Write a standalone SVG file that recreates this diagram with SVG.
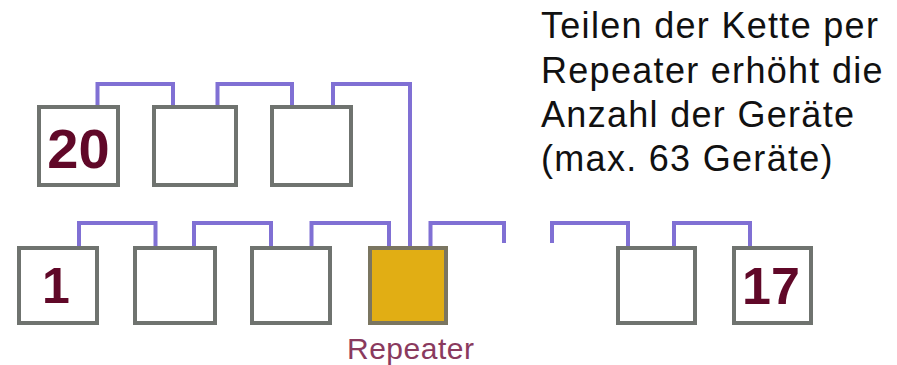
<svg xmlns="http://www.w3.org/2000/svg" width="897" height="365" viewBox="0 0 897 365">
  <style>
    .box { fill: #ffffff; stroke: #6f736f; stroke-width: 4; }
    .rep { fill: #e1ae14; stroke: #7a7560; stroke-width: 4; }
    .wire { fill: none; stroke: #8070d4; stroke-width: 4; stroke-linejoin: miter; stroke-linecap: butt; }
    .num { font-family: "Liberation Sans", Arial, sans-serif; font-weight: bold; fill: #600828; text-anchor: middle; }
    .note { font-family: "Liberation Sans", Arial, sans-serif; font-size: 36px; fill: #111111; letter-spacing: 1.3px; }
    .label { font-family: "Liberation Sans", Arial, sans-serif; font-size: 30px; fill: #8a3a5e; letter-spacing: 0.5px; }
  </style>

  <rect width="897" height="365" fill="#ffffff"/>

  <!-- bus wiring between devices -->
  <g id="connectors">
    <!-- upper segment -->
    <path class="wire" d="M97.5,105 V84 H173 V105"/>
    <path class="wire" d="M217.5,105 V84 H292 V105"/>
    <path class="wire" d="M333,105 V84 H410 V246"/>
    <!-- lower segment -->
    <path class="wire" d="M79,246 V223 H155.5 V246"/>
    <path class="wire" d="M194,246 V223 H271 V246"/>
    <path class="wire" d="M311.5,246 V223 H389 V246"/>
    <path class="wire" d="M430.5,246 V223 H504 V243"/>
    <path class="wire" d="M552,243 V223 H628 V246"/>
    <path class="wire" d="M674,246 V223 H750 V246"/>
  </g>

  <!-- upper row of devices -->
  <g id="dev20">
    <rect class="box" x="39" y="107" width="79" height="78"/>
    <text class="num" x="78.5" y="168" font-size="56">20</text>
  </g>
  <g id="devU2">
    <rect class="box" x="154" y="107" width="82" height="78"/>
  </g>
  <g id="devU3">
    <rect class="box" x="272" y="107" width="79" height="78"/>
  </g>

  <!-- lower row of devices -->
  <g id="dev1">
    <rect class="box" x="19" y="248" width="78" height="75"/>
    <text class="num" x="56" y="303" font-size="50">1</text>
  </g>
  <g id="devL2">
    <rect class="box" x="135" y="248" width="80" height="75"/>
  </g>
  <g id="devL3">
    <rect class="box" x="252" y="248" width="78" height="75"/>
  </g>
  <g id="repeater">
    <rect class="rep" x="370" y="248" width="76" height="75"/>
    <text class="label" x="347" y="359">Repeater</text>
  </g>
  <g id="devL5">
    <rect class="box" x="618" y="248" width="77" height="75"/>
  </g>
  <g id="dev17">
    <rect class="box" x="734" y="248" width="77" height="75"/>
    <text class="num" x="771" y="304" font-size="52">17</text>
  </g>

  <!-- explanatory note -->
  <g id="note">
    <text class="note" x="541" y="38">Teilen der Kette per</text>
    <text class="note" x="541" y="83">Repeater erhöht die</text>
    <text class="note" x="541" y="127">Anzahl der Geräte</text>
    <text class="note" x="541" y="171">(max. 63 Geräte)</text>
  </g>
</svg>
